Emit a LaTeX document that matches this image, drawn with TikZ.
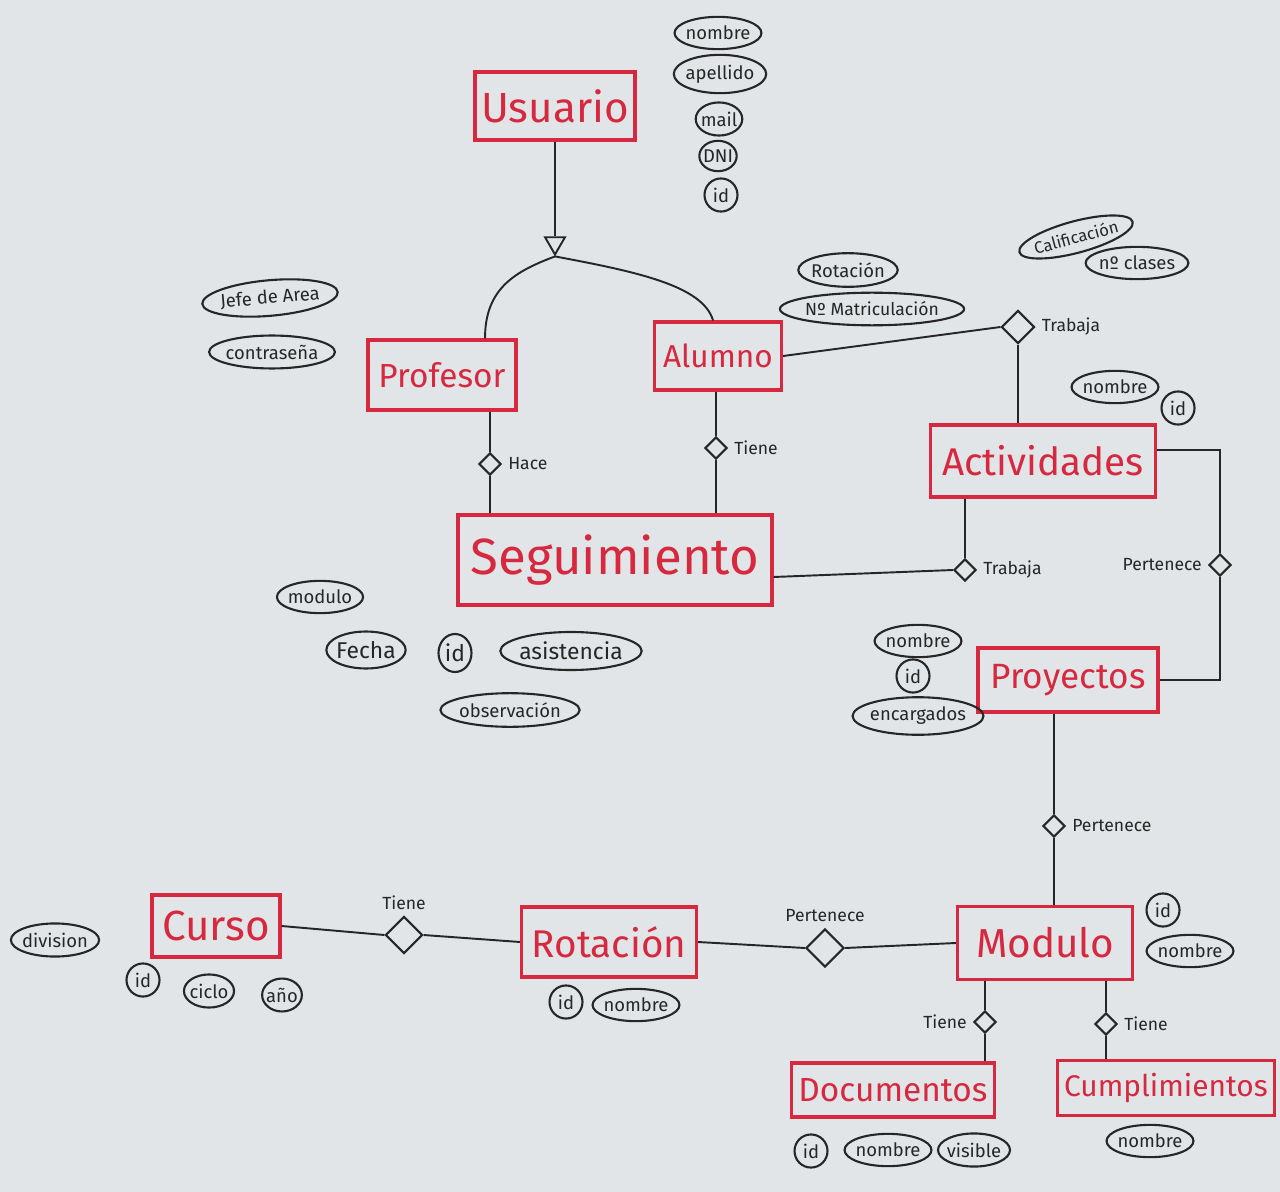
\documentclass[tikz,border=0pt]{standalone}
\usepackage{fontspec}
\setmainfont{Fira Sans}
\usetikzlibrary{shapes.geometric,calc}
\definecolor{board}{RGB}{226,229,231}
\definecolor{marker}{RGB}{214,40,62}
\definecolor{ink}{RGB}{38,38,38}
\tikzset{
  entity/.style={draw=marker, text=marker, line width=1.8pt, inner sep=2pt, font=\fontsize{#1}{#1}\selectfont},
  attr/.style={ellipse, draw=ink, text=ink, line width=1.2pt, inner xsep=-1pt, inner ysep=2.5pt, minimum height=0.56cm, minimum width=0.66cm, font=\fontsize{#1}{#1}\selectfont},
  attr/.default=10.5,
  rel/.style={diamond, draw=ink, line width=1.2pt, fill=board, inner sep=0pt, minimum size=#1},
  rel/.default=0.44cm,
  lnk/.style={draw=ink, line width=1.1pt},
  rlabel/.style={text=ink, font=\fontsize{10}{10}\selectfont}
}
\begin{document}
\begin{tikzpicture}[x=0.02cm, y=-0.02cm]
\fill[board] (0,0) rectangle (1280,1192);
\useasboundingbox (0,0) rectangle (1280,1192);

% entidades
\node[entity=24, minimum width=3.2cm, minimum height=1.36cm] (usuario) at (555,106) {Usuario};
\node[entity=19, minimum width=2.96cm, minimum height=1.4cm] (profesor) at (442,375) {Profesor};
\node[entity=18, minimum width=2.54cm, minimum height=1.36cm] (alumno) at (718,356) {Alumno};
\node[entity=22, minimum width=4.5cm, minimum height=1.44cm] (actividades) at (1043,461) {Actividades};
\node[entity=29, minimum width=6.28cm, minimum height=1.8cm] (seguimiento) at (615,560) {Seguimiento};
\node[entity=20, minimum width=3.6cm, minimum height=1.28cm] (proyectos) at (1068,680) {Proyectos};
\node[entity=23, minimum width=3.5cm, minimum height=1.46cm] (modulo) at (1045,943) {Modulo};
\node[entity=22, minimum width=3.5cm, minimum height=1.4cm] (rotacion) at (609,942) {Rotación};
\node[entity=24, minimum width=2.56cm, minimum height=1.24cm] (curso) at (216,926) {Curso};
\node[entity=19, minimum width=4.06cm, minimum height=1.08cm] (documentos) at (893,1090) {Documentos};
\node[entity=17, minimum width=4.34cm, minimum height=1.1cm] (cumplimientos) at (1166,1088) {Cumplimientos};

% atributos
\foreach \n/\x/\y/\t in {un/718/33/nombre, ua/720/74/apellido, um/719/119/mail, ud/718/156/DNI, ui/721/195/id,
    pc/272/352/contraseña, ar/848/270/Rotación, tn/1137/263/nº clases,
    acn/1115/387/nombre, aci/1178/408/id, sm/320/597/modulo, so/510/710/observación,
    prn/918/641/nombre, pri/913/676/id, pre/918/716/encargados, mi/1163/910/id, mn/1190/951/nombre,
    cd/55/940/division, ci/143/980/id, cc/209/991/ciclo, ca/282/995/año, ri/566/1002/id, rn/636/1005/nombre,
    di/811/1151/id, dn/888/1150/nombre, dv/974/1150/visible, cn/1150/1141/nombre}
  \node[attr] (\n) at (\x,\y) {\t};
\foreach \n/\x/\y/\t in {sf/366/650/Fecha, si/455/653/id, sa/571/651/asistencia}
  \node[attr=13] (\n) at (\x,\y) {\t};
\node[attr=10] (an) at (872,309) {Nº Matriculación};
\node[attr, rotate=5] (pj) at (270,298) {Jefe de Area};
\node[attr=9.5, rotate=15] (tc) at (1076,237) {Calificación};

% generalizacion
\node[regular polygon, regular polygon sides=3, shape border rotate=180, draw=ink, line width=1.1pt,
  fill=board, minimum size=0.46cm, inner sep=0pt] (isa) at (555,243) {};
\draw[lnk] (usuario) -- (isa);
\draw[lnk] (isa.south) .. controls +(-40,15) and +(0,-50) .. ($(profesor.north)+(43,0)$);
\draw[lnk] (isa.south) .. controls +(80,15) and +(-10,-35) .. ($(alumno.north)+(-5,0)$);

% relaciones
\node[rel, label={[rlabel]right:Hace}] (hace) at (490,464) {};
\node[rel, label={[rlabel]right:Tiene}] (tiene1) at (716,448) {};
\node[rel=0.66cm, label={[rlabel]right:Trabaja}] (trab1) at (1018,327) {};
\node[rel, label={[rlabel]right:Trabaja}] (trab2) at (965,570) {};
\node[rel, label={[rlabel]left:Pertenece}] (pert1) at (1220,565) {};
\node[rel, label={[rlabel]right:Pertenece}] (pert2) at (1054,826) {};
\node[rel=0.74cm, label={[rlabel]above:Tiene}] (tiene3) at (404,935) {};
\node[rel=0.76cm, label={[rlabel]above:Pertenece}] (pert3) at (825,948) {};
\node[rel, label={[rlabel]left:Tiene}] (tiene4) at (985,1022) {};
\node[rel, label={[rlabel]right:Tiene}] (tiene5) at (1106,1024) {};

\draw[lnk] (hace.north) -- (hace.north |- profesor.south);
\draw[lnk] (hace.south) -- (hace.south |- seguimiento.north);
\draw[lnk] (tiene1.north) -- (tiene1.north |- alumno.south);
\draw[lnk] (tiene1.south) -- (tiene1.south |- seguimiento.north);
\draw[lnk] (alumno.east) -- (trab1.west);
\draw[lnk] (trab1.south) -- (trab1.south |- actividades.north);
\draw[lnk] ($(seguimiento.east)+(0,17)$) -- (trab2.west);
\draw[lnk] (trab2.north) -- (trab2.north |- actividades.south);
\draw[lnk] ($(actividades.east)+(0,-11)$) -| (pert1.north);
\draw[lnk] (pert1.south) |- (proyectos.east);
\draw[lnk] (pert2.north) -- (pert2.north |- proyectos.south);
\draw[lnk] (pert2.south) -- (pert2.south |- modulo.north);
\draw[lnk] (curso.east) -- (tiene3.west);
\draw[lnk] (tiene3.east) -- (rotacion.west);
\draw[lnk] (rotacion.east) -- (pert3.west);
\draw[lnk] (pert3.east) -- (modulo.west);
\draw[lnk] (tiene4.north) -- (tiene4.north |- modulo.south);
\draw[lnk] (tiene4.south) -- (tiene4.south |- documentos.north);
\draw[lnk] (tiene5.north) -- (tiene5.north |- modulo.south);
\draw[lnk] (tiene5.south) -- (tiene5.south |- cumplimientos.north);
\end{tikzpicture}
\end{document}
